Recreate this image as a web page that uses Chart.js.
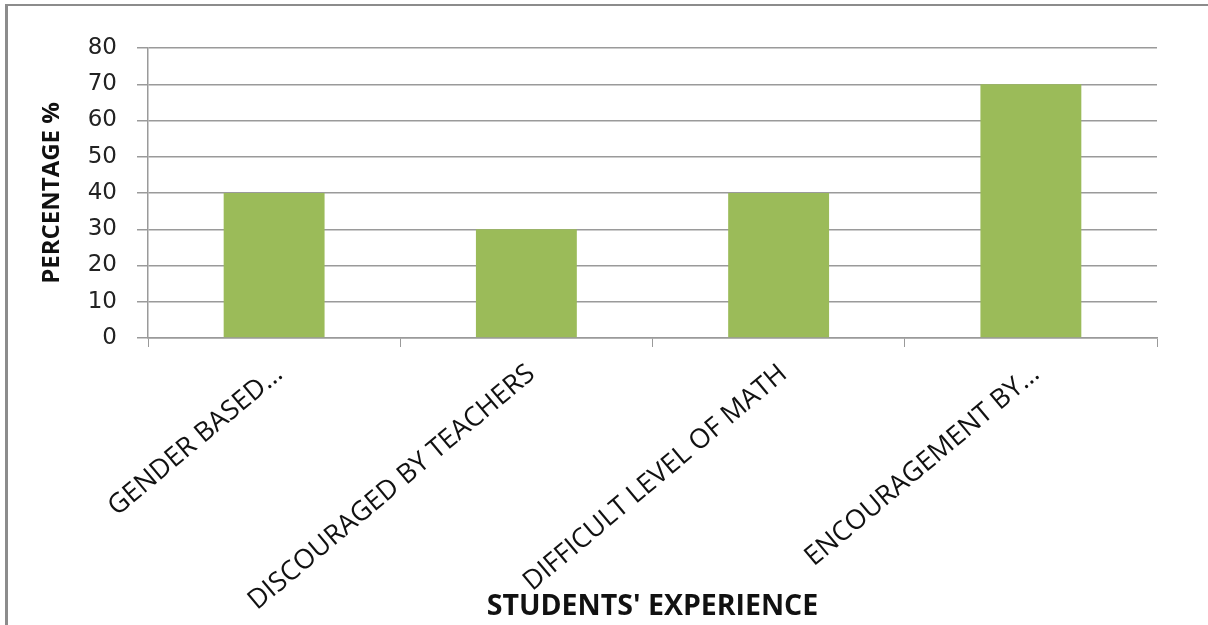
<!DOCTYPE html>
<html>
<head>
<meta charset="utf-8">
<script src="https://cdn.jsdelivr.net/npm/chart.js@4/dist/chart.umd.min.js"></script>
<style>
  html, body { margin: 0; padding: 0; background: #fff; overflow: hidden; }
  #frame { position: absolute; left: 5px; top: 4px; width: 1220px; height: 660px; border-left: 3px solid #8c8c8c; border-top: 2px solid #8c8c8c; box-sizing: border-box; }
  #wrap { position: absolute; left: 0; top: 0; width: 1208px; height: 625px; }
</style>
</head>
<body>
<div id="frame"></div>
<div id="wrap"><canvas id="c" width="1208" height="625"></canvas></div>
<script>
const categories = ["GENDER BASED…", "DISCOURAGED BY TEACHERS", "DIFFICULT LEVEL OF MATH", "ENCOURAGEMENT BY…"];
const percentages = [40, 30, 40, 70];
const yTitle = "PERCENTAGE %";
const xTitle = "STUDENTS' EXPERIENCE";

const FONT = "'Open Sans', 'Liberation Sans', sans-serif";
const WIDE = "'DejaVu Sans', 'Open Sans', sans-serif";

new Chart(document.getElementById('c'), {
  type: 'bar',
  data: {
    labels: categories,
    datasets: [{
      data: percentages,
      backgroundColor: '#9BBB59',
      borderWidth: 0,
      categoryPercentage: 1.0,
      barPercentage: 0.4
    }]
  },
  options: {
    responsive: false,
    animation: false,
    devicePixelRatio: 1,
    layout: { padding: { top: 48, right: 51, bottom: 0, left: 0 } },
    plugins: { legend: { display: false }, tooltip: { enabled: false } },
    scales: {
      x: {
        offset: true,
        grid: { display: true, drawOnChartArea: false, drawTicks: true, tickLength: 9, color: '#9a9a9a', offset: true },
        border: { display: true, color: '#9a9a9a', width: 1.5 },
        ticks: { minRotation: 40, maxRotation: 40, autoSkip: false, color: '#111', padding: 11, labelOffset: 5, font: { family: FONT, size: 27 } },
        title: { display: true, text: xTitle, color: '#111', font: { family: FONT, size: 28.5, weight: 'bold' }, padding: { top: 0, bottom: 1 } },
        afterFit: (s) => { s.height = 287; }
      },
      y: {
        min: 0, max: 80,
        ticks: { stepSize: 10, autoSkip: false, color: '#222', padding: 20, font: { family: WIDE, size: 23 } },
        grid: { color: '#9a9a9a', lineWidth: 1.5, tickLength: 11, drawTicks: true },
        border: { display: true, color: '#9a9a9a', width: 1.5 },
        title: { display: true, text: yTitle, color: '#111', font: { family: FONT, size: 24, weight: 'bold' }, padding: { top: 38, bottom: 0 } },
        afterFit: (s) => { s.width = 148; }
      }
    }
  }
});
</script>
</body>
</html>
